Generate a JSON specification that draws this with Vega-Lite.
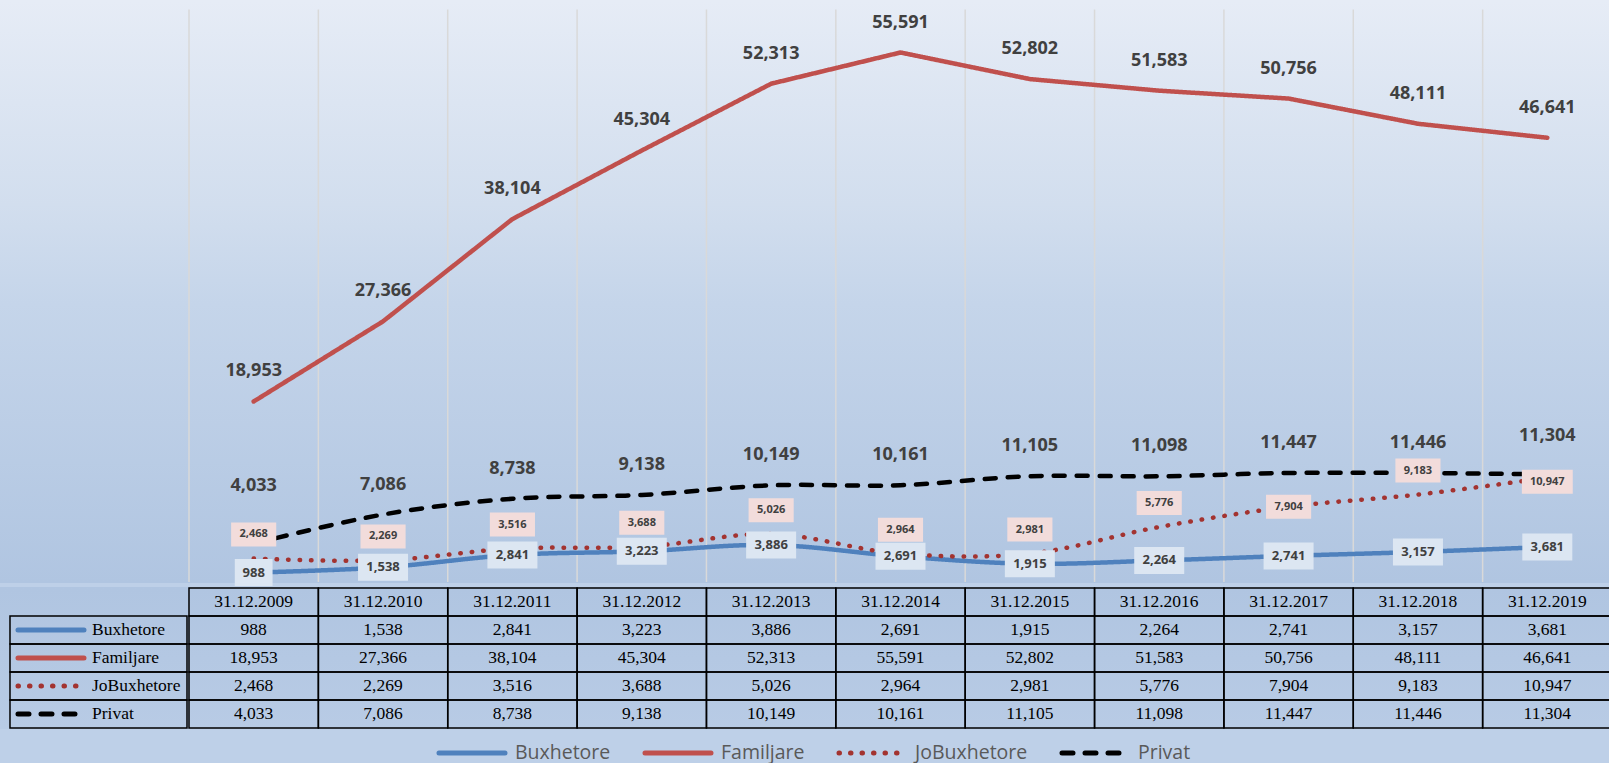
{
  "$schema": "https://vega.github.io/schema/vega-lite/v6.json",
  "background": "#BED0E8",
  "padding": {"left": 0, "top": 0, "right": 0, "bottom": 0},
  "spacing": 0,
  "config": {
    "view": {"stroke": null},
    "font": "Open Sans"
  },
  "datasets": {
    "one": [{"k": 1}],
    "main": [
      {"date": "31.12.2009", "series": "Buxhetore", "value": 988},
      {"date": "31.12.2010", "series": "Buxhetore", "value": 1538},
      {"date": "31.12.2011", "series": "Buxhetore", "value": 2841},
      {"date": "31.12.2012", "series": "Buxhetore", "value": 3223},
      {"date": "31.12.2013", "series": "Buxhetore", "value": 3886},
      {"date": "31.12.2014", "series": "Buxhetore", "value": 2691},
      {"date": "31.12.2015", "series": "Buxhetore", "value": 1915},
      {"date": "31.12.2016", "series": "Buxhetore", "value": 2264},
      {"date": "31.12.2017", "series": "Buxhetore", "value": 2741},
      {"date": "31.12.2018", "series": "Buxhetore", "value": 3157},
      {"date": "31.12.2019", "series": "Buxhetore", "value": 3681},
      {"date": "31.12.2009", "series": "Familjare", "value": 18953},
      {"date": "31.12.2010", "series": "Familjare", "value": 27366},
      {"date": "31.12.2011", "series": "Familjare", "value": 38104},
      {"date": "31.12.2012", "series": "Familjare", "value": 45304},
      {"date": "31.12.2013", "series": "Familjare", "value": 52313},
      {"date": "31.12.2014", "series": "Familjare", "value": 55591},
      {"date": "31.12.2015", "series": "Familjare", "value": 52802},
      {"date": "31.12.2016", "series": "Familjare", "value": 51583},
      {"date": "31.12.2017", "series": "Familjare", "value": 50756},
      {"date": "31.12.2018", "series": "Familjare", "value": 48111},
      {"date": "31.12.2019", "series": "Familjare", "value": 46641},
      {"date": "31.12.2009", "series": "JoBuxhetore", "value": 2468},
      {"date": "31.12.2010", "series": "JoBuxhetore", "value": 2269},
      {"date": "31.12.2011", "series": "JoBuxhetore", "value": 3516},
      {"date": "31.12.2012", "series": "JoBuxhetore", "value": 3688},
      {"date": "31.12.2013", "series": "JoBuxhetore", "value": 5026},
      {"date": "31.12.2014", "series": "JoBuxhetore", "value": 2964},
      {"date": "31.12.2015", "series": "JoBuxhetore", "value": 2981},
      {"date": "31.12.2016", "series": "JoBuxhetore", "value": 5776},
      {"date": "31.12.2017", "series": "JoBuxhetore", "value": 7904},
      {"date": "31.12.2018", "series": "JoBuxhetore", "value": 9183},
      {"date": "31.12.2019", "series": "JoBuxhetore", "value": 10947},
      {"date": "31.12.2009", "series": "Privat", "value": 4033},
      {"date": "31.12.2010", "series": "Privat", "value": 7086},
      {"date": "31.12.2011", "series": "Privat", "value": 8738},
      {"date": "31.12.2012", "series": "Privat", "value": 9138},
      {"date": "31.12.2013", "series": "Privat", "value": 10149},
      {"date": "31.12.2014", "series": "Privat", "value": 10161},
      {"date": "31.12.2015", "series": "Privat", "value": 11105},
      {"date": "31.12.2016", "series": "Privat", "value": 11098},
      {"date": "31.12.2017", "series": "Privat", "value": 11447},
      {"date": "31.12.2018", "series": "Privat", "value": 11446},
      {"date": "31.12.2019", "series": "Privat", "value": 11304}
    ]
  },
  "vconcat": [
    {
      "spacing": 0,
      "hconcat": [
        {
          "width": 186,
          "height": 581,
          "data": {"name": "one"},
          "mark": {
            "type": "rect", "strokeWidth": 2,
            "fill": {"gradient": "linear", "x1": 0, "y1": 0, "x2": 0, "y2": 1,
              "stops": [
                {"offset": 0, "color": "#E6ECF6"},
                {"offset": 0.35, "color": "#D2DEEE"},
                {"offset": 0.52, "color": "#C5D5EA"},
                {"offset": 1, "color": "#B0C5E1"}
              ]},
            "stroke": {"gradient": "linear", "x1": 0, "y1": 0, "x2": 0, "y2": 1,
              "stops": [
                {"offset": 0, "color": "#E6ECF6"},
                {"offset": 0.35, "color": "#D2DEEE"},
                {"offset": 0.52, "color": "#C5D5EA"},
                {"offset": 1, "color": "#B0C5E1"}
              ]}
          }
        },
        {
          "width": 1423,
          "height": 581,
          "layer": [
            {
              "data": {"name": "one"},
              "mark": {
                "type": "rect", "strokeWidth": 2,
                "fill": {"gradient": "linear", "x1": 0, "y1": 0, "x2": 0, "y2": 1,
                  "stops": [
                    {"offset": 0, "color": "#E6ECF6"},
                    {"offset": 0.35, "color": "#D2DEEE"},
                    {"offset": 0.52, "color": "#C5D5EA"},
                    {"offset": 1, "color": "#B0C5E1"}
                  ]},
                "stroke": {"gradient": "linear", "x1": 0, "y1": 0, "x2": 0, "y2": 1,
                  "stops": [
                    {"offset": 0, "color": "#E6ECF6"},
                    {"offset": 0.35, "color": "#D2DEEE"},
                    {"offset": 0.52, "color": "#C5D5EA"},
                    {"offset": 1, "color": "#B0C5E1"}
                  ]}
              }
            },
            {
              "data": {"name": "main"},
              "transform": [{"filter": "datum.series == 'Buxhetore'"}],
              "mark": {"type": "rule", "color": "#D9D9D9", "strokeWidth": 1.5},
              "encoding": {
                "x": {"field": "date", "type": "ordinal", "bandPosition": 0,
                  "scale": {"paddingInner": 0, "paddingOuter": 0}, "axis": null},
                "y": {"datum": 60100, "type": "quantitative", "scale": {"domain": [0, 61000], "nice": false, "zero": true}, "axis": null},
                "y2": {"datum": 0}
              }
            },
            {
              "data": {"name": "main"},
              "transform": [{"filter": "datum.series != 'Familjare'"}],
              "mark": {"type": "line", "strokeWidth": 4.5, "strokeCap": "round", "interpolate": "catmull-rom"},
              "encoding": {
                "x": {"field": "date", "type": "ordinal", "axis": null},
                "y": {"field": "value", "type": "quantitative", "axis": null},
                "color": {
                  "field": "series", "type": "nominal",
                  "scale": {"domain": ["Buxhetore", "Familjare", "JoBuxhetore", "Privat"],
                            "range": ["#4F81BD", "#C0504D", "#A33330", "#000000"]},
                  "legend": {
                    "title": null, "orient": "none", "legendX": 452, "legendY": 733, "direction": "horizontal",
                    "symbolType": "M-2,0H2", "symbolSize": 1089, "symbolStrokeWidth": 5,
                    "labelFont": "Open Sans", "labelFontSize": 19.5, "labelColor": "#595959",
                    "labelOffset": 24, "columnPadding": 24,
                    "encoding": {"symbols": {"strokeCap": {"value": "round"}}}
                  }
                },
                "strokeDash": {
                  "field": "series", "type": "nominal",
                  "scale": {"domain": ["Buxhetore", "Familjare", "JoBuxhetore", "Privat"],
                            "range": [[1, 0], [1, 0], [0.5, 11], [11, 12]]},
                  "legend": {
                    "title": null, "orient": "none", "legendX": 452, "legendY": 733, "direction": "horizontal",
                    "symbolType": "M-2,0H2", "symbolSize": 1089, "symbolStrokeWidth": 5,
                    "labelFont": "Open Sans", "labelFontSize": 19.5, "labelColor": "#595959",
                    "labelOffset": 24, "columnPadding": 24,
                    "encoding": {"symbols": {"strokeCap": {"value": "round"}}}
                  }
                }
              }
            },
            {
              "data": {"name": "main"},
              "transform": [{"filter": "datum.series == 'Familjare'"}],
              "mark": {"type": "line", "strokeWidth": 4.5, "strokeCap": "round", "interpolate": "linear"},
              "encoding": {
                "x": {"field": "date", "type": "ordinal", "axis": null},
                "y": {"field": "value", "type": "quantitative", "axis": null},
                "color": {"field": "series", "type": "nominal"},
                "strokeDash": {"field": "series", "type": "nominal"}
              }
            },
            {
              "data": {"name": "main"},
              "transform": [{"filter": "datum.series == 'Familjare' || datum.series == 'Privat'"}],
              "mark": {"type": "text", "font": "Open Sans", "fontWeight": "bold", "fontSize": 18,
                       "color": "#404040", "baseline": "middle",
                       "dy": {"expr": "datum.series == 'Privat' && datum.date == '31.12.2009' ? -58 : (datum.series == 'Privat' && datum.date == '31.12.2019' ? -38 : -30)"}},
              "encoding": {
                "x": {"field": "date", "type": "ordinal", "axis": null},
                "y": {"field": "value", "type": "quantitative", "axis": null},
                "text": {"field": "value", "type": "quantitative", "format": ","}
              }
            },
            {
              "data": {"name": "main"},
              "transform": [{"filter": "datum.series == 'JoBuxhetore'"}],
              "mark": {"type": "point", "filled": true, "fill": "#F2DCDB", "opacity": 1,
                       "strokeWidth": 0, "size": 2304,
                       "yOffset": {"expr": "datum.date == '31.12.2019' ? 4 : (datum.date == '31.12.2017' ? 0 : -24)"}},
              "encoding": {
                "x": {"field": "date", "type": "ordinal", "axis": null},
                "y": {"field": "value", "type": "quantitative", "axis": null},
                "shape": {
                  "condition": {"test": "datum.value >= 10000", "value": "M-1.06,-0.5H1.06V0.5H-1.06Z"},
                  "value": "M-0.94,-0.5H0.94V0.5H-0.94Z"
                }
              }
            },
            {
              "data": {"name": "main"},
              "transform": [{"filter": "datum.series == 'JoBuxhetore'"}],
              "mark": {"type": "text", "font": "Open Sans", "fontWeight": "bold", "fontSize": 11,
                       "color": "#404040", "baseline": "middle",
                       "dy": {"expr": "datum.date == '31.12.2019' ? 4 : (datum.date == '31.12.2017' ? 0 : -24)"}},
              "encoding": {
                "x": {"field": "date", "type": "ordinal", "axis": null},
                "y": {"field": "value", "type": "quantitative", "axis": null},
                "text": {"field": "value", "type": "quantitative", "format": ","}
              }
            },
            {
              "data": {"name": "main"},
              "transform": [{"filter": "datum.series == 'Buxhetore'"}],
              "mark": {"type": "point", "filled": true, "fill": "#DCE6F2", "opacity": 1,
                       "strokeWidth": 0, "size": 2916},
              "encoding": {
                "x": {"field": "date", "type": "ordinal", "axis": null},
                "y": {"field": "value", "type": "quantitative", "axis": null},
                "shape": {
                  "condition": {"test": "datum.value < 1000", "value": "M-0.7,-0.5H0.7V0.5H-0.7Z"},
                  "value": "M-0.926,-0.5H0.926V0.5H-0.926Z"
                }
              }
            },
            {
              "data": {"name": "main"},
              "transform": [{"filter": "datum.series == 'Buxhetore'"}],
              "mark": {"type": "text", "font": "Open Sans", "fontWeight": "bold", "fontSize": 13,
                       "color": "#404040", "baseline": "middle"},
              "encoding": {
                "x": {"field": "date", "type": "ordinal", "axis": null},
                "y": {"field": "value", "type": "quantitative", "axis": null},
                "text": {"field": "value", "type": "quantitative", "format": ","}
              }
            }
          ]
        }
      ]
    },
    {
      "spacing": 0,
      "hconcat": [
        {
          "width": 186,
          "height": 140,
          "layer": [
            {
              "data": {"name": "one"},
              "mark": {
                "type": "rect", "strokeWidth": 2,
                "fill": {"gradient": "linear", "x1": 0, "y1": 0, "x2": 0, "y2": 1,
                  "stops": [
                    {"offset": 0, "color": "#B0C5E1"},
                    {"offset": 1, "color": "#B8CBE5"}
                  ]},
                "stroke": {"gradient": "linear", "x1": 0, "y1": 0, "x2": 0, "y2": 1,
                  "stops": [
                    {"offset": 0, "color": "#B0C5E1"},
                    {"offset": 1, "color": "#B8CBE5"}
                  ]}
              }
            },
            {
              "data": {"name": "main"},
              "transform": [{"filter": "datum.date == '31.12.2009'"}],
              "mark": {"type": "rect", "fillOpacity": 0, "stroke": "#000000", "strokeWidth": 1.5},
              "encoding": {
                "x": {"datum": "c", "type": "nominal",
                  "scale": {"type": "band", "domain": ["c"], "paddingInner": 0, "paddingOuter": 0.0254, "align": 1},
                  "axis": null},
                "y": {"field": "series", "type": "nominal",
                  "scale": {"domain": ["hdr", "Buxhetore", "Familjare", "JoBuxhetore", "Privat"], "paddingInner": 0, "paddingOuter": 0},
                  "axis": null}
              }
            },
            {
              "data": {"name": "main"},
              "transform": [{"filter": "datum.date == '31.12.2009'"}],
              "mark": {"type": "point", "shape": "stroke", "size": 4356, "strokeWidth": 5,
                       "strokeCap": "round", "opacity": 1, "xOffset": -47.5},
              "encoding": {
                "x": {"datum": "c", "type": "nominal", "axis": null},
                "y": {"field": "series", "type": "nominal", "axis": null},
                "color": {
                  "field": "series", "type": "nominal",
                  "scale": {"domain": ["Buxhetore", "Familjare", "JoBuxhetore", "Privat"],
                            "range": ["#4F81BD", "#C0504D", "#A33330", "#000000"]},
                  "legend": null
                },
                "strokeDash": {
                  "field": "series", "type": "nominal",
                  "scale": {"domain": ["Buxhetore", "Familjare", "JoBuxhetore", "Privat"],
                            "range": [[1, 0], [1, 0], [0.5, 11], [11, 12]]},
                  "legend": null
                }
              }
            },
            {
              "data": {"name": "main"},
              "transform": [{"filter": "datum.date == '31.12.2009'"}],
              "mark": {"type": "text", "font": "Liberation Serif", "fontSize": 17.5, "color": "#000000",
                       "align": "left", "baseline": "middle", "dx": -6.5},
              "encoding": {
                "x": {"datum": "c", "type": "nominal", "axis": null},
                "y": {"field": "series", "type": "nominal", "axis": null},
                "text": {"field": "series", "type": "nominal"}
              }
            }
          ]
        },
        {
          "width": 1423,
          "height": 140,
          "layer": [
            {
              "data": {"name": "one"},
              "mark": {
                "type": "rect", "strokeWidth": 2,
                "fill": {"gradient": "linear", "x1": 0, "y1": 0, "x2": 0, "y2": 1,
                  "stops": [
                    {"offset": 0, "color": "#B0C5E1"},
                    {"offset": 1, "color": "#B8CBE5"}
                  ]},
                "stroke": {"gradient": "linear", "x1": 0, "y1": 0, "x2": 0, "y2": 1,
                  "stops": [
                    {"offset": 0, "color": "#B0C5E1"},
                    {"offset": 1, "color": "#B8CBE5"}
                  ]}
              }
            },
            {
              "data": {"name": "main"},
              "transform": [{"filter": "datum.series == 'Buxhetore'"}],
              "mark": {"type": "rect", "fillOpacity": 0, "stroke": "#000000", "strokeWidth": 1.5},
              "encoding": {
                "x": {"field": "date", "type": "ordinal",
                  "scale": {"paddingInner": 0, "paddingOuter": 0}, "axis": null},
                "y": {"datum": "hdr", "type": "nominal",
                  "scale": {"domain": ["hdr", "Buxhetore", "Familjare", "JoBuxhetore", "Privat"], "paddingInner": 0, "paddingOuter": 0},
                  "axis": null}
              }
            },
            {
              "data": {"name": "main"},
              "mark": {"type": "rect", "fillOpacity": 0, "stroke": "#000000", "strokeWidth": 1.5},
              "encoding": {
                "x": {"field": "date", "type": "ordinal", "axis": null},
                "y": {"field": "series", "type": "nominal", "axis": null}
              }
            },
            {
              "data": {"name": "main"},
              "transform": [{"filter": "datum.series == 'Buxhetore'"}],
              "mark": {"type": "text", "font": "Liberation Serif", "fontSize": 17.5, "color": "#000000", "baseline": "middle"},
              "encoding": {
                "x": {"field": "date", "type": "ordinal", "axis": null},
                "y": {"datum": "hdr", "type": "nominal", "axis": null},
                "text": {"field": "date", "type": "nominal"}
              }
            },
            {
              "data": {"name": "main"},
              "mark": {"type": "text", "font": "Liberation Serif", "fontSize": 17.5, "color": "#000000", "baseline": "middle"},
              "encoding": {
                "x": {"field": "date", "type": "ordinal", "axis": null},
                "y": {"field": "series", "type": "nominal", "axis": null},
                "text": {"field": "value", "type": "quantitative", "format": ","}
              }
            }
          ]
        }
      ]
    }
  ]
}
